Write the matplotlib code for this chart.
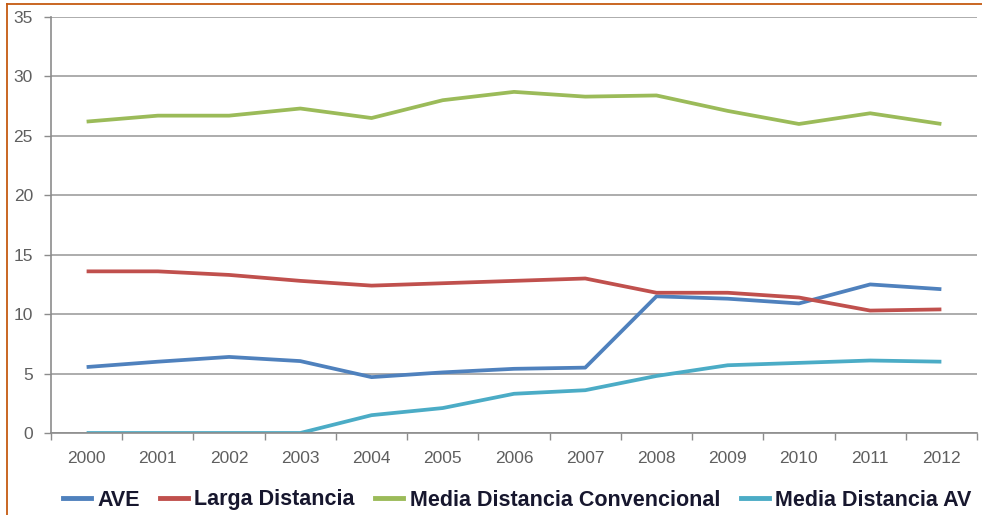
import matplotlib
matplotlib.use("Agg")
import matplotlib.pyplot as plt
from matplotlib.lines import Line2D
import numpy as np

years = ["2000", "2001", "2002", "2003", "2004", "2005", "2006",
         "2007", "2008", "2009", "2010", "2011", "2012"]
ave = [5.55, 6.0, 6.4, 6.05, 4.7, 5.1, 5.4, 5.5, 11.5, 11.3, 10.9, 12.5, 12.1]
larga = [13.6, 13.6, 13.3, 12.8, 12.4, 12.6, 12.8, 13.0, 11.8, 11.8, 11.4, 10.3, 10.4]
media_conv = [26.2, 26.7, 26.7, 27.3, 26.5, 28.0, 28.7, 28.3, 28.4, 27.1, 26.0, 26.9, 26.0]
media_av = [0, 0, 0, 0, 1.5, 2.1, 3.3, 3.6, 4.8, 5.7, 5.9, 6.1, 6.0]

series = [
    ("AVE", ave, "#4F81BD"),
    ("Larga Distancia", larga, "#C0504D"),
    ("Media Distancia Convencional", media_conv, "#9BBB59"),
    ("Media Distancia AV", media_av, "#4BACC6"),
]

plt.rcParams['font.family'] = ['Liberation Sans', 'DejaVu Sans']

fig = plt.figure(figsize=(9.82, 5.15), dpi=100)
W, H = 982, 515
ax = fig.add_axes([51 / W, (H - 433) / H, (977 - 51) / W, (433 - 17) / H])

x = np.arange(len(years))
for name, vals, col in series:
    ax.plot(x, vals, color=col, lw=2.7, label=name, solid_capstyle='butt',
            solid_joinstyle='round')

ax.set_xlim(-0.5, len(years) - 0.5)
ax.set_ylim(0, 35)
ax.set_yticks(np.arange(0, 36, 5))
ax.yaxis.grid(True, color='#A6A6A6', lw=1.3)
ax.set_axisbelow(True)

ax.set_xticks(x)
ax.set_xticklabels(years)
ax.set_xticks(np.arange(-0.5, len(years), 1), minor=True)
ax.tick_params(axis='x', which='major', length=0, pad=13, labelsize=12.5, labelcolor='#5F5F5F')
ax.tick_params(axis='x', which='minor', length=5, color='#8C8C8C', width=1)
ax.tick_params(axis='y', length=5, color='#8C8C8C', width=1, labelsize=12.5,
               labelcolor='#5F5F5F', pad=8)

for s in ['top', 'right']:
    ax.spines[s].set_visible(False)
for s in ['left', 'bottom']:
    ax.spines[s].set_color('#8C8C8C')
    ax.spines[s].set_linewidth(1.2)

handles = [Line2D([0], [0], color=c, lw=3.5) for _, _, c in series]
leg = fig.legend(handles, [n for n, _, _ in series], loc='center',
                 bbox_to_anchor=(517 / W, 1 - 500 / H), ncol=4, frameon=False,
                 prop={'weight': 'bold', 'size': 15.5}, handlelength=1.3,
                 handletextpad=0.3, columnspacing=0.95, borderpad=0)
for t in leg.get_texts():
    t.set_color('#17172E')

# outer frame lines (orange)
fig.add_artist(Line2D([7 / W, 1], [1 - 4 / H, 1 - 4 / H], color='#C55A11', lw=1.3,
                      transform=fig.transFigure))
fig.add_artist(Line2D([7 / W, 7 / W], [0, 1 - 4 / H], color='#C55A11', lw=1.3,
                      transform=fig.transFigure))

fig.savefig("out.png", dpi=100)
